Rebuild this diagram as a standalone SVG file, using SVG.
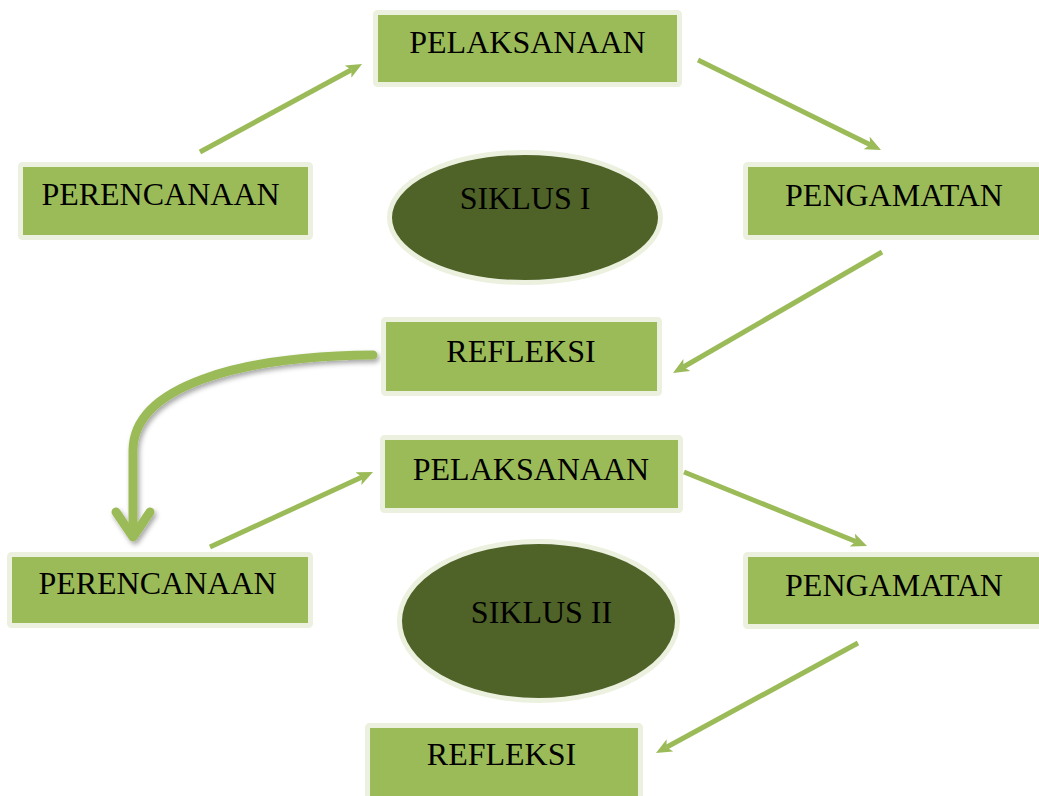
<svg xmlns="http://www.w3.org/2000/svg" width="1039" height="796" viewBox="0 0 1039 796">
<style>
.box{fill:#9BBB59;stroke:#EBF1DE;stroke-width:5}
.ell{fill:#4F6228;stroke:#EBF1DE;stroke-width:5}
.lbl{font-family:"Liberation Serif","Times New Roman",serif;font-size:32px;fill:#000;text-anchor:middle}
.arr{stroke:#9BBB59;stroke-width:5;fill:none;marker-end:url(#head)}
.big{stroke:#9BBB59;stroke-width:9;fill:none;stroke-linecap:round;stroke-linejoin:round}
</style>
<defs>
<marker id="head" markerUnits="userSpaceOnUse" markerWidth="16" markerHeight="14" refX="4" refY="7" orient="auto" viewBox="0 0 16 14">
<path d="M0,0 L16,7 L0,14 L4,7 z" fill="#9BBB59"/>
</marker>
<filter id="sh" x="-20%" y="-20%" width="140%" height="140%">
<feDropShadow dx="2" dy="3" stdDeviation="2.5" flood-color="#000" flood-opacity="0.35"/>
</filter>
</defs>
<rect width="1039" height="796" fill="#fff"/>
<g id="connectors">
<line class="arr" x1="200" y1="152" x2="351.5" y2="69.7"/>
<line class="arr" x1="698" y1="60" x2="870.2" y2="144.7"/>
<line class="arr" x1="882" y1="252" x2="683.4" y2="367"/>
<g filter="url(#sh)">
<path class="big" d="M373,355 C240,356 134,386 133,450 L133,534"/>
<path class="big" d="M116,512 L133,537 L150,512"/>
</g>
<line class="arr" x1="210" y1="547" x2="362.1" y2="477"/>
<line class="arr" x1="684" y1="472" x2="855.9" y2="541.5"/>
<line class="arr" x1="858" y1="643" x2="666.5" y2="747.3"/>
</g>
<g id="pelaksanaan1"><rect class="box" x="375.5" y="12.5" width="304" height="72" rx="2"/><text class="lbl" x="527.5" y="53">PELAKSANAAN</text></g>
<g id="perencanaan1"><rect class="box" x="20.5" y="164.5" width="290" height="73" rx="2"/><text class="lbl" x="160.5" y="205">PERENCANAAN</text></g>
<g id="siklus1"><ellipse class="ell" cx="525" cy="217.5" rx="135.5" ry="65"/><text class="lbl" x="525" y="209">SIKLUS I</text></g>
<g id="pengamatan1"><rect class="box" x="745.5" y="164.5" width="300" height="73" rx="2"/><text class="lbl" x="894" y="206">PENGAMATAN</text></g>
<g id="refleksi1"><rect class="box" x="383.5" y="319.5" width="276" height="74" rx="2"/><text class="lbl" x="521" y="362">REFLEKSI</text></g>
<g id="pelaksanaan2"><rect class="box" x="382.5" y="437.5" width="298" height="73" rx="2"/><text class="lbl" x="531" y="480">PELAKSANAAN</text></g>
<g id="perencanaan2"><rect class="box" x="9.5" y="554.5" width="301" height="71" rx="2"/><text class="lbl" x="157.5" y="594">PERENCANAAN</text></g>
<g id="siklus2"><ellipse class="ell" cx="538.5" cy="621" rx="139" ry="79.5"/><text class="lbl" x="541.5" y="623">SIKLUS II</text></g>
<g id="pengamatan2"><rect class="box" x="745.5" y="554.5" width="300" height="72" rx="2"/><text class="lbl" x="894" y="596">PENGAMATAN</text></g>
<g id="refleksi2"><rect class="box" x="367.5" y="725.5" width="273" height="80" rx="2"/><text class="lbl" x="501.5" y="765">REFLEKSI</text></g>
</svg>
